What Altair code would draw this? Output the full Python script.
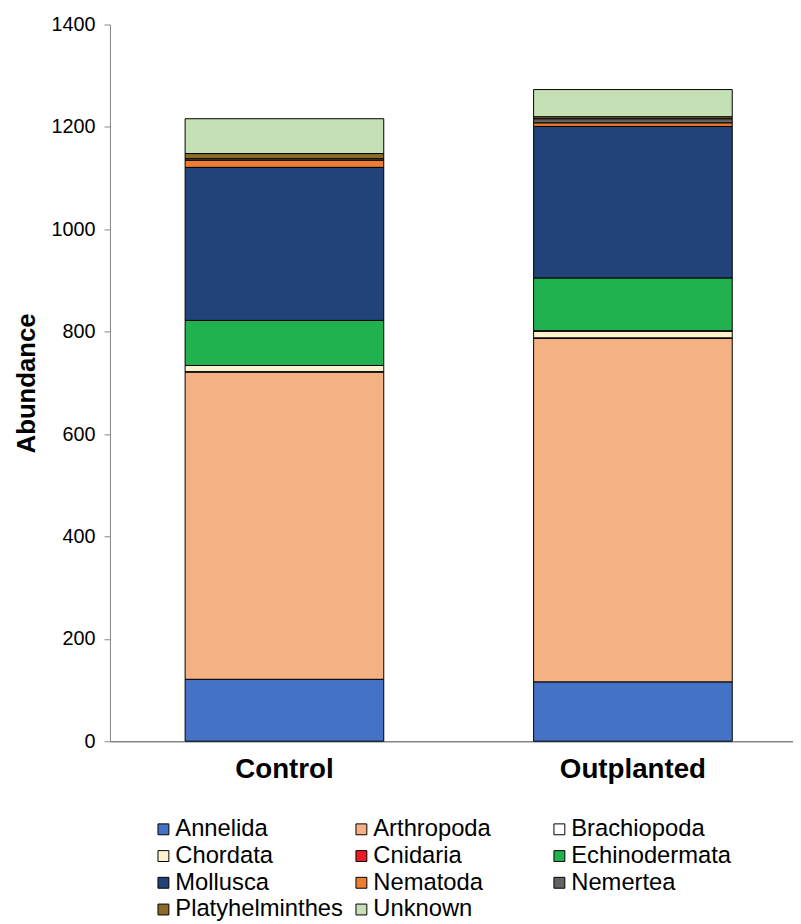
import altair as alt
import pandas as pd

groups = ["Control", "Outplanted"]
taxa = ["Annelida", "Arthropoda", "Brachiopoda", "Chordata", "Cnidaria",
        "Echinodermata", "Mollusca", "Nematoda", "Nemertea",
        "Platyhelminthes", "Unknown"]
control = [121, 600, 1, 12, 0, 88, 299, 14, 3, 10, 68]
outplanted = [116, 671, 1, 13, 1, 103, 296, 7, 8, 4, 53]
colors = ["#4472C4", "#F4B183", "#FFFFFF", "#FFF2CC", "#ED1C24",
          "#21B14F", "#22437A", "#ED7D31", "#636363", "#8C6A2A", "#C5E0B4"]
y_ticks = [0, 200, 400, 600, 800, 1000, 1200, 1400]

rows = []
for g, vals in zip(groups, [control, outplanted]):
    for i, (t, v) in enumerate(zip(taxa, vals)):
        rows.append({"group": g, "taxon": t, "value": v, "ord": i})
df = pd.DataFrame(rows)

FONT = "Liberation Sans"

chart = alt.Chart(df).mark_bar(stroke="black", strokeWidth=1).encode(
    x=alt.X("group:N", sort=groups, title=None,
            scale=alt.Scale(paddingInner=0.43, paddingOuter=0.195, align=0.553),
            axis=alt.Axis(labelAngle=0, labelFontSize=28, labelFontWeight="bold",
                          labelColor="black", labelFont=FONT, ticks=False,
                          labelPadding=15, domainColor="#868686", domainWidth=1.5)),
    y=alt.Y("value:Q", stack="zero", title="Abundance",
            scale=alt.Scale(domain=[0, 1400], nice=False),
            axis=alt.Axis(values=y_ticks, grid=False, format="d",
                          labelFontSize=20, labelColor="black", labelFont=FONT,
                          labelPadding=9, tickSize=6, tickColor="#868686",
                          domainColor="#868686", titleFontSize=26,
                          titleFontWeight="bold", titleColor="black",
                          titleFont=FONT, titlePadding=12)),
    color=alt.Color("taxon:N", sort=taxa,
                    scale=alt.Scale(domain=taxa, range=colors),
                    legend=alt.Legend(orient="none", legendX=42, legendY=801,
                                      direction="horizontal",
                                      columns=3, title=None, symbolType="square",
                                      symbolSize=121, symbolStrokeColor="black",
                                      symbolStrokeWidth=1, labelFontSize=24,
                                      labelFont=FONT, labelColor="black",
                                      labelOffset=0, columnPadding=6,
                                      rowPadding=3, gridAlign="all",
                                      labelLimit=300)),
    order=alt.Order("ord:Q", sort="ascending"),
).properties(
    width=690, height=724,
    padding={"left": 5, "top": 2, "right": 0, "bottom": 5},
).configure_view(stroke=None)

chart.save("out.html", embed_options={"renderer": "svg", "actions": False})
